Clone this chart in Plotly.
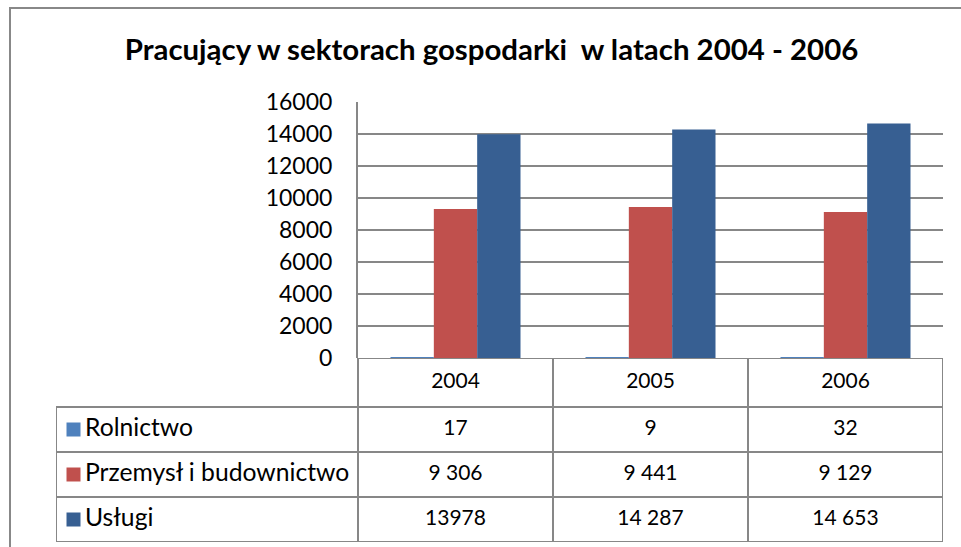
import plotly.graph_objects as go

# ---------------- data ----------------
years = ["2004", "2005", "2006"]
series_names = ["Rolnictwo", "Przemysł i budownictwo", "Usługi"]
rolnictwo = [17, 9, 32]
przemysl = [9306, 9441, 9129]
uslugi = [13978, 14287, 14653]
rolnictwo_labels = ["17", "9", "32"]
przemysl_labels = ["9 306", "9 441", "9 129"]
uslugi_labels = ["13978", "14 287", "14 653"]
y_ticks = [0, 2000, 4000, 6000, 8000, 10000, 12000, 14000, 16000]
title_text = "Pracujący w sektorach gospodarki  w latach 2004 - 2006"

series_values = [rolnictwo, przemysl, uslugi]
series_labels = [rolnictwo_labels, przemysl_labels, uslugi_labels]
colors = ["#4F81BD", "#C0504D", "#375F92"]

# ---------------- geometry (page pixels) ----------------
W, H = 961, 547
plot_left, plot_right = 358, 943
plot_top, plot_bottom = 102, 358
table_left, table_bottom = 56, 542
row_edges = [0, 49, 94, 139, 184]  # header + 3 rows, pixel offsets below plot_bottom
GRID = "#878787"
FONT = "Lato"

def px_x(p):
    return p / W

def px_y(p):
    return 1 - p / H

unit = (plot_right - plot_left) / len(years)
x2_left = -0.5 - (plot_left - table_left) / unit

fig = go.Figure()

# bars
for name, vals, col in zip(series_names, series_values, colors):
    fig.add_trace(go.Bar(
        x=years, y=vals, name=name, marker=dict(color=col, line=dict(width=0)),
        xaxis="x", yaxis="y", hoverinfo="skip", showlegend=False,
    ))

# table: header (years)
idx = list(range(len(years)))
header_y = (row_edges[0] + row_edges[1]) / 2
num_font = dict(family=FONT, size=21, color="black")
fig.add_trace(go.Scatter(
    x=idx, y=[header_y] * len(years), text=years, mode="text",
    textposition="middle center", textfont=num_font,
    xaxis="x2", yaxis="y2", hoverinfo="skip", showlegend=False,
))

row_centers = [(row_edges[i + 1] + row_edges[i + 2]) / 2 for i in range(3)]
for r, labels in enumerate(series_labels):
    fig.add_trace(go.Scatter(
        x=idx, y=[row_centers[r]] * len(years), text=labels, mode="text",
        textposition="middle center", textfont=num_font,
        xaxis="x2", yaxis="y2", hoverinfo="skip", showlegend=False,
    ))

# legend keys in table
key_x = x2_left + (73.5 - table_left) / unit
fig.add_trace(go.Scatter(
    x=[key_x] * 3, y=row_centers, mode="markers",
    marker=dict(symbol="square", size=14, color=colors, line=dict(width=0)),
    xaxis="x2", yaxis="y2", hoverinfo="skip", showlegend=False,
))
label_x = x2_left + (85 - table_left) / unit
fig.add_trace(go.Scatter(
    x=[label_x] * 3, y=row_centers, text=series_names, mode="text",
    textposition="middle right", textfont=dict(family=FONT, size=24.7, color="black"),
    marker=dict(size=1),
    xaxis="x2", yaxis="y2", hoverinfo="skip", showlegend=False,
))

# table grid lines
shapes = []
line = dict(color=GRID, width=2)
col_edges = [-0.5 + i for i in range(len(years) + 1)]
for ce in col_edges:
    shapes.append(dict(type="line", xref="x2", yref="y2", x0=ce, x1=ce,
                       y0=row_edges[0], y1=row_edges[-1], line=line))
shapes.append(dict(type="line", xref="x2", yref="y2", x0=x2_left, x1=x2_left,
                   y0=row_edges[1], y1=row_edges[-1], line=line))
shapes.append(dict(type="line", xref="x2", yref="y2", x0=-0.5, x1=col_edges[-1],
                   y0=row_edges[0], y1=row_edges[0], line=line))
for re_ in row_edges[1:]:
    shapes.append(dict(type="line", xref="x2", yref="y2", x0=x2_left, x1=col_edges[-1],
                       y0=re_, y1=re_, line=line))
# outer chart frame
shapes.append(dict(type="rect", xref="paper", yref="paper",
                   x0=px_x(10), x1=1.05, y0=-0.05, y1=px_y(8),
                   line=dict(color="#888888", width=2), fillcolor="rgba(0,0,0,0)"))

fig.update_layout(
    width=W, height=H,
    margin=dict(l=0, r=0, t=0, b=0),
    paper_bgcolor="white", plot_bgcolor="white",
    barmode="group", bargap=1 / 3, bargroupgap=0,
    font=dict(family=FONT, size=21, color="black"),
    title=dict(text="<b>" + title_text + "</b>", x=px_x(491.5), y=px_y(50),
               xanchor="center", yanchor="middle",
               font=dict(family=FONT, size=29.4, color="black")),
    xaxis=dict(domain=[px_x(plot_left), px_x(plot_right)], range=[-0.5, 2.5],
               showticklabels=False, showgrid=False, zeroline=False, showline=False,
               fixedrange=True, automargin=False),
    yaxis=dict(domain=[px_y(plot_bottom), px_y(plot_top)], range=[0, 16000],
               tickvals=y_ticks, tickformat="d", showgrid=True, gridcolor=GRID,
               gridwidth=1.5, zeroline=False, showline=True, linecolor=GRID,
               linewidth=2, ticks="", ticklabelstandoff=19, automargin=False,
               tickfont=dict(family=FONT, size=23, color="black")),
    xaxis2=dict(domain=[px_x(table_left), px_x(plot_right)],
                range=[x2_left, 2.5], visible=False, anchor="y2", automargin=False),
    yaxis2=dict(domain=[px_y(table_bottom), px_y(plot_bottom)],
                range=[row_edges[-1], row_edges[0]], visible=False, anchor="x2",
                automargin=False),
    shapes=shapes,
)

fig.write_html(
    "out.html",
    config={"displayModeBar": False},
    post_script="document.body.style.margin='0';document.body.style.overflow='hidden';",
)
